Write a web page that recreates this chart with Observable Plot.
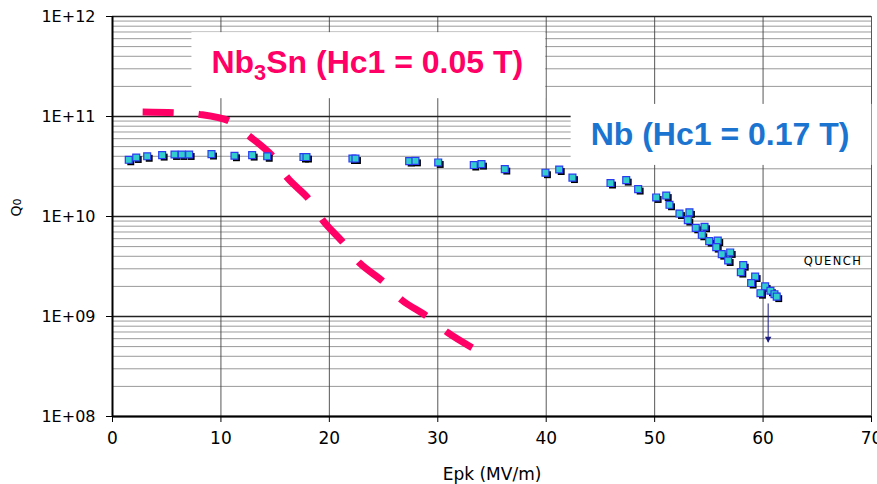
<!DOCTYPE html>
<html><head><meta charset="utf-8">
<script src="https://cdn.jsdelivr.net/npm/d3@7"></script>
<script src="https://cdn.jsdelivr.net/npm/@observablehq/plot@0.6"></script>
<style>body{margin:0;background:#fff} svg{display:block}</style>
</head><body><div id="chart"></div>
<script>
// Nb measured Q0 vs Epk
const nbEpk = [1.50,2.19,3.20,4.58,5.72,6.39,7.07,9.13,11.25,12.88,14.27,17.61,17.89,22.13,22.41,27.36,27.94,30.04,33.32,34.03,
  36.18,39.93,41.20,42.42,45.93,47.38,48.48,50.14,51.07,51.37,52.29,53.21,53.06,53.79,54.60,54.35,55.03,55.82,55.68,56.19,
  56.97,56.78,58.17,57.95,59.27,58.90,60.19,59.76,60.68,61.05,61.26];
const nbQ0 = [3.69e10,3.89e10,4.0e10,4.11e10,4.17e10,4.17e10,4.17e10,4.21e10,4.05e10,4.11e10,4.0e10,3.93e10,3.93e10,3.80e10,3.80e10,3.58e10,3.60e10,3.47e10,3.27e10,3.34e10,
  2.98e10,2.74e10,2.95e10,2.45e10,2.16e10,2.31e10,1.88e10,1.55e10,1.62e10,1.31e10,1.07e10,1.10e10,9.2e9,7.7e9,7.9e9,6.56e9,5.67e9,5.75e9,4.94e9,4.2e9,
  4.37e9,3.63e9,3.26e9,2.78e9,2.51e9,2.16e9,2.0e9,1.71e9,1.81e9,1.67e9,1.58e9];
// Nb3Sn expected curve
const snEpk = [2.78,5.69,7.99,10.76,12.6,14.75,16.13,18.12,19.45,21.29,22.82,24.97,26.72,28.96,30.92,33.17];
const snQ0 = [1.11e11,1.09e11,1.05e11,9.02e10,6.38e10,4.03e10,2.44e10,1.49e10,9.0e9,5.47e9,3.4e9,2.23e9,1.45e9,1.01e9,6.9e8,4.88e8];
// axes
const xTicks = [0,10,20,30,40,50,60,70];
const yTicks = [1e8,1e9,1e10,1e11,1e12];
const minorMult = [2,3,4,5,6,7,8,9];
// annotations
const snLabel = ["Nb3Sn (Hc1 = 0.05 T)"], snLabelEpk = [23.5], snLabelQ0 = [3.43e11];
const nbLabel = ["Nb (Hc1 = 0.17 T)"], nbLabelEpk = [56.03], nbLabelQ0 = [6.58e10];
const quenchText = ["QUENCH"], quenchEpk = [66.45], quenchQ0 = [3.57e9];
const arrowEpk = [60.47], arrowFrom = [1.35e9], arrowTo = [5.53e8];

const nb = nbEpk.map((x,i)=>({x, y: nbQ0[i]}));
const sn = snEpk.map((x,i)=>({x, y: snQ0[i]}));
const minorY = yTicks.slice(0,-1).flatMap(d => minorMult.map(m => m*d));
const arrow = arrowEpk.map((x,i)=>({x, y1: arrowFrom[i], y2: arrowTo[i]}));
const fmt = d => "1E+" + String(Math.round(Math.log10(d))).padStart(2,"0");

const chart = Plot.plot({
  width: 877, height: 484,
  marginLeft: 112, marginRight: 6, marginTop: 16, marginBottom: 68,
  style: {fontFamily: "DejaVu Sans", fontSize: "16px", background: "#fff", color: "#000"},
  x: {domain: [0,70]},
  y: {type: "log", domain: [1e8,1e12]},
  marks: [
    Plot.ruleY(minorY, {stroke: "#9a9a9a", strokeWidth: 1}),
    Plot.ruleX(xTicks.filter(d => d > 0), {stroke: "#444", strokeWidth: 0.9}),
    Plot.ruleY(yTicks, {stroke: "#222", strokeWidth: 1.3}),
    Plot.ruleX([0], {stroke: "#000", strokeWidth: 2}),
    Plot.ruleY([1e8], {stroke: "#000", strokeWidth: 2}),
    Plot.axisY(yTicks, {tickSize: 6, tickPadding: 11, tickFormat: fmt, fontSize: 16, label: null}),
    Plot.axisX(xTicks, {tickSize: 6, tickPadding: 9, fontSize: 17, label: null}),
    Plot.text(["Epk (MV/m)"], {frameAnchor: "bottom", dy: 63, fontSize: 17}),
    Plot.text(["Q0"], {frameAnchor: "left", dx: -96, rotate: -90, fontSize: 14}),
    Plot.line(sn, {x: "x", y: "y", stroke: "#ff0066", strokeWidth: 7, strokeDasharray: "31,25", curve: "catmull-rom", strokeLinecap: "butt"}),
    Plot.dot(nb, {x: "x", y: "y", symbol: "square", r: 3.9, fill: "#000", dx: 2, dy: 2}),
    Plot.dot(nb, {x: "x", y: "y", symbol: "square", r: 3.9, fill: "#33cccc", stroke: "#2a3cf0", strokeWidth: 1.2}),
    Plot.link(arrow, {x1: "x", x2: "x", y1: "y1", y2: "y2", stroke: "#1a1a80", strokeWidth: 1}),
    Plot.dot(arrow, {x: "x", y: "y2", symbol: "triangle", rotate: 180, r: 2.4, fill: "#1a1a80", dy: -3.5}),
    Plot.text(quenchText, {x: quenchEpk, y: quenchQ0, text: d => d, fontSize: 11.5}),
    Plot.text(snLabel, {x: snLabelEpk, y: snLabelQ0, text: d => d, fontSize: 32, fontWeight: "bold", fontFamily: "Liberation Sans", fill: "#ff0066"}),
    Plot.text(nbLabel, {x: nbLabelEpk, y: nbLabelQ0, text: d => d, fontSize: 32, fontWeight: "bold", fontFamily: "Liberation Sans", fill: "#1a74d0"})
  ]
});
document.getElementById("chart").appendChild(chart);

const svg = d3.select(chart);
svg.selectAll("text").each(function() {
  const t = d3.select(this);
  const s = this.textContent;
  if (s === "QUENCH") t.style("letter-spacing", "1.4px");
  if (s === "Q0") {
    t.text("Q");
    t.append("tspan").attr("font-size", "0.8em").text("0");
  }
  if (s === snLabel[0] || s === nbLabel[0]) {
    if (s === snLabel[0]) {
      t.text("");
      t.append("tspan").text("Nb");
      t.append("tspan").attr("font-size", "0.68em").attr("dy", "0.32em").text("3");
      t.append("tspan").attr("dy", "-0.22em").text("Sn (Hc1 = 0.05 T)");
    }
    const b = this.getBBox();
    d3.select(this.parentNode).insert("rect", () => this)
      .attr("x", b.x - 20).attr("y", b.y - 12)
      .attr("width", b.width + 42).attr("height", b.height + 25)
      .attr("transform", t.attr("transform"))
      .attr("fill", "#fff");
  }
});
</script></body></html>
